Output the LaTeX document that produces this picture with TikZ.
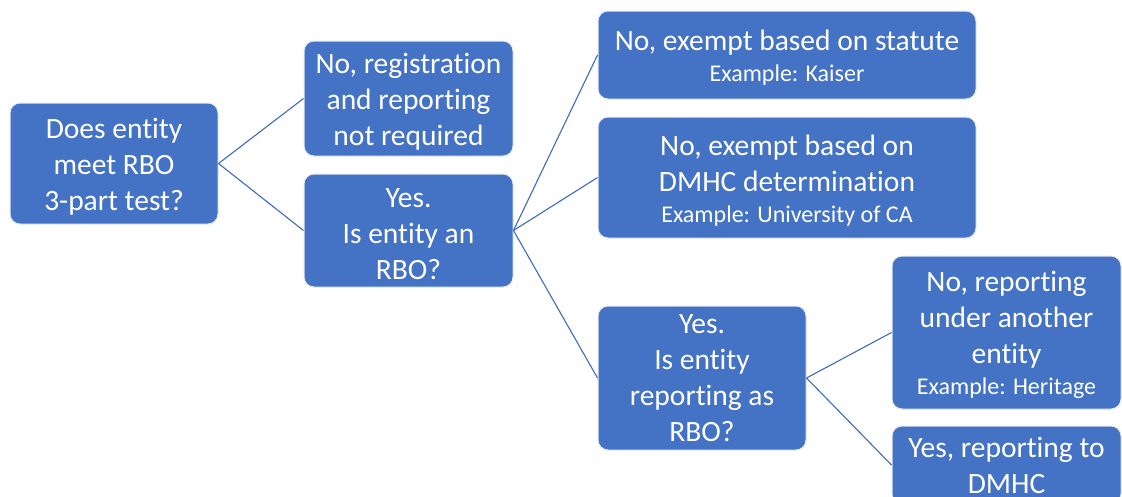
\documentclass[tikz,border=0pt]{standalone}
\usepackage{fontspec}
\setmainfont{Carlito}[Ligatures={NoCommon}]
\definecolor{boxblue}{HTML}{4472C4}
\definecolor{linkblue}{HTML}{3F6BBE}
\begin{document}
\begin{tikzpicture}[x=1pt,y=-1pt,
  box/.style={rectangle, rounded corners=10pt, fill=boxblue, draw=white!85!boxblue,
    line width=1pt, inner sep=0pt, text=white, align=center,
    font=\fontsize{29.5}{36}\selectfont},
  link/.style={draw=linkblue, line width=1.1pt}]
  \newcommand\examplefont{\fontsize{24}{31}\selectfont}
  % extra room above the first line drops each text block a little
  \newcommand\topgap{\rule{0pt}{26pt}}
  % page area
  \fill[white] (0,0) rectangle (1122,496);
  \clip (0,0) rectangle (1122,496);

  % decision boxes
  \node[box, minimum width=208pt, minimum height=121pt] (q1) at (114,163.5)
    {\topgap Does entity\\meet RBO\\3-part test?};
  \node[box, minimum width=209pt, minimum height=115pt] (no1) at (408.5,98.5)
    {\topgap No, registration\\and reporting\\not required};
  \node[box, minimum width=209pt, minimum height=113pt] (q2) at (408.5,230.5)
    {\topgap Yes.\\Is entity an\\RBO?};
  \node[box, minimum width=378pt, minimum height=88pt] (ex1) at (787,55)
    {\topgap No, exempt based on statute\\[-5pt]{\examplefont Example: Kaiser}};
  \node[box, minimum width=378pt, minimum height=121pt] (ex2) at (787,177.5)
    {\topgap No, exempt based on\\DMHC determination\\[-5pt]{\examplefont Example: University of CA}};
  \node[box, minimum width=208pt, minimum height=144pt] (q3) at (702,378)
    {Yes.\\Is entity\\reporting as\\RBO?};
  \node[box, minimum width=229pt, minimum height=153pt] (no3) at (1006.5,332.5)
    {\topgap No, reporting\\under another\\entity\\[-5pt]{\examplefont Example: Heritage}};
  \node[box, minimum width=229pt, minimum height=78pt] (yes3) at (1006.5,465)
    {Yes, reporting to\\DMHC};

  % connectors
  \draw[link] (q1.east) -- (no1.west);
  \draw[link] (q1.east) -- (q2.west);
  \draw[link] (q2.east) -- (ex1.west);
  \draw[link] (q2.east) -- (ex2.west);
  \draw[link] (q2.east) -- (q3.west);
  \draw[link] (q3.east) -- (no3.west);
  \draw[link] (q3.east) -- (yes3.west);
\end{tikzpicture}
\end{document}
